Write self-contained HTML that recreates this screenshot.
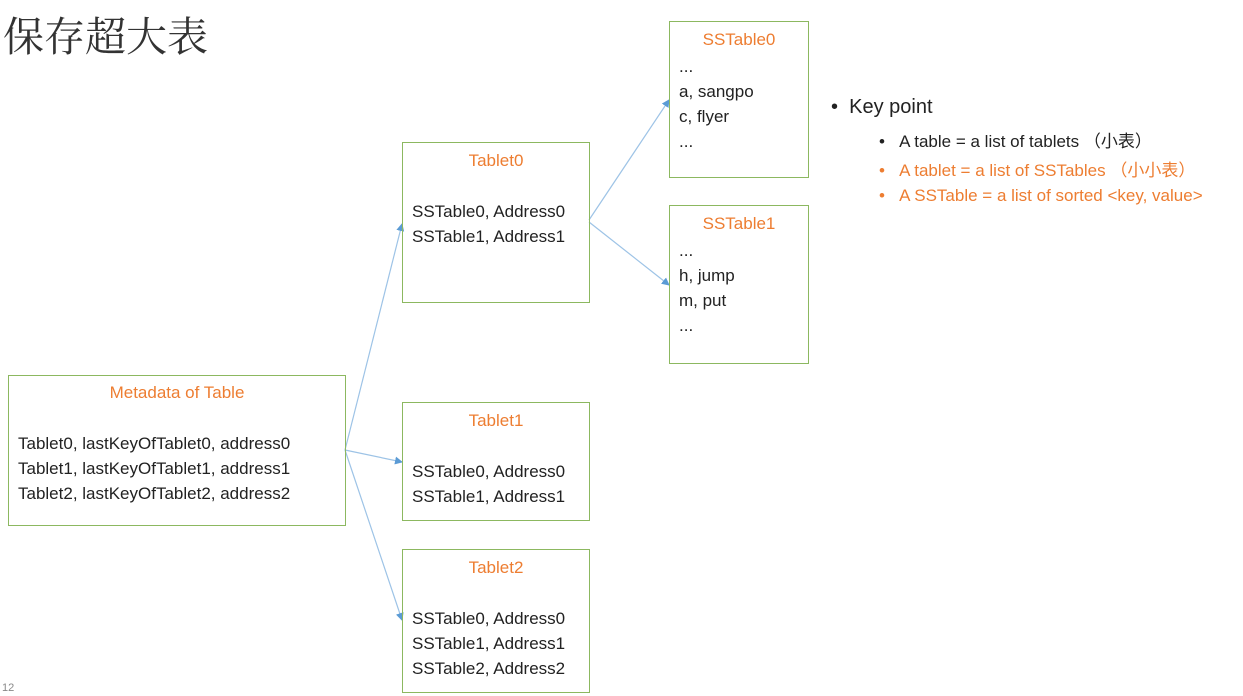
<!DOCTYPE html>
<html><head><meta charset="utf-8"><style>
body{margin:0;width:1243px;height:696px;background:#fff;position:relative;overflow:hidden;font-family:"Liberation Sans","Noto Sans CJK SC",sans-serif;color:#222}
.t{position:absolute;white-space:nowrap}
.box{position:absolute;border:1.5px solid #8cb860;box-sizing:border-box}
.o{color:#ed7d31}
.l{position:absolute;font-size:17px;line-height:25px;white-space:nowrap}
.c{position:absolute;font-size:17px;left:0;right:0;text-align:center}
</style></head><body>
<div class="t" style="left:3px;top:4px;font-size:41px;font-family:'Noto Serif CJK SC',serif;color:#333">保存超大表</div>
<svg width="1243" height="696" style="position:absolute;left:0;top:0">
<defs><marker id="a" markerWidth="8" markerHeight="8" refX="7" refY="4" orient="auto" markerUnits="userSpaceOnUse"><path d="M0,0L8,4L0,8z" fill="#5b9bd5"/></marker></defs>
<g stroke="#9dc3e6" stroke-width="1.2" fill="none" marker-end="url(#a)">
<line x1="345" y1="450" x2="402" y2="224"/>
<line x1="345" y1="450" x2="402" y2="462"/>
<line x1="345" y1="450" x2="402" y2="620"/>
<line x1="589" y1="220" x2="669" y2="100"/>
<line x1="589" y1="222" x2="669" y2="285"/>
</g></svg>
<div class="box" style="left:8px;top:375px;width:338px;height:151px">
<div class="c o" style="top:7px">Metadata of Table</div>
<div class="l" style="left:9px;top:55px">Tablet0, lastKeyOfTablet0, address0<br>Tablet1, lastKeyOfTablet1, address1<br>Tablet2, lastKeyOfTablet2, address2</div></div>
<div class="box" style="left:402px;top:142px;width:188px;height:161px">
<div class="c o" style="top:8px">Tablet0</div>
<div class="l" style="left:9px;top:56px">SSTable0, Address0<br>SSTable1, Address1</div></div>
<div class="box" style="left:402px;top:402px;width:188px;height:119px">
<div class="c o" style="top:8px">Tablet1</div>
<div class="l" style="left:9px;top:56px">SSTable0, Address0<br>SSTable1, Address1</div></div>
<div class="box" style="left:402px;top:549px;width:188px;height:144px">
<div class="c o" style="top:8px">Tablet2</div>
<div class="l" style="left:9px;top:56px">SSTable0, Address0<br>SSTable1, Address1<br>SSTable2, Address2</div></div>
<div class="box" style="left:669px;top:21px;width:140px;height:157px">
<div class="c o" style="top:8px">SSTable0</div>
<div class="l" style="left:9px;top:32px">...<br>a, sangpo<br>c, flyer<br>...</div></div>
<div class="box" style="left:669px;top:205px;width:140px;height:159px">
<div class="c o" style="top:8px">SSTable1</div>
<div class="l" style="left:9px;top:32px">...<br>h, jump<br>m, put<br>...</div></div>
<div class="t" style="left:831px;top:96px;font-size:20px">•&nbsp;&nbsp;Key point</div>
<div class="t" style="left:879px;top:127px;font-size:17px">•&nbsp;&nbsp;&nbsp;A table = a list of tablets （小表）</div>
<div class="t o" style="left:879px;top:156px;font-size:17px">•&nbsp;&nbsp;&nbsp;A tablet = a list of SSTables （小小表）</div>
<div class="t o" style="left:879px;top:186px;font-size:17px">•&nbsp;&nbsp;&nbsp;A SSTable = a list of sorted &lt;key, value&gt;</div>
<div class="t" style="left:2px;top:682px;font-size:11px;color:#888">12</div>
</body></html>
